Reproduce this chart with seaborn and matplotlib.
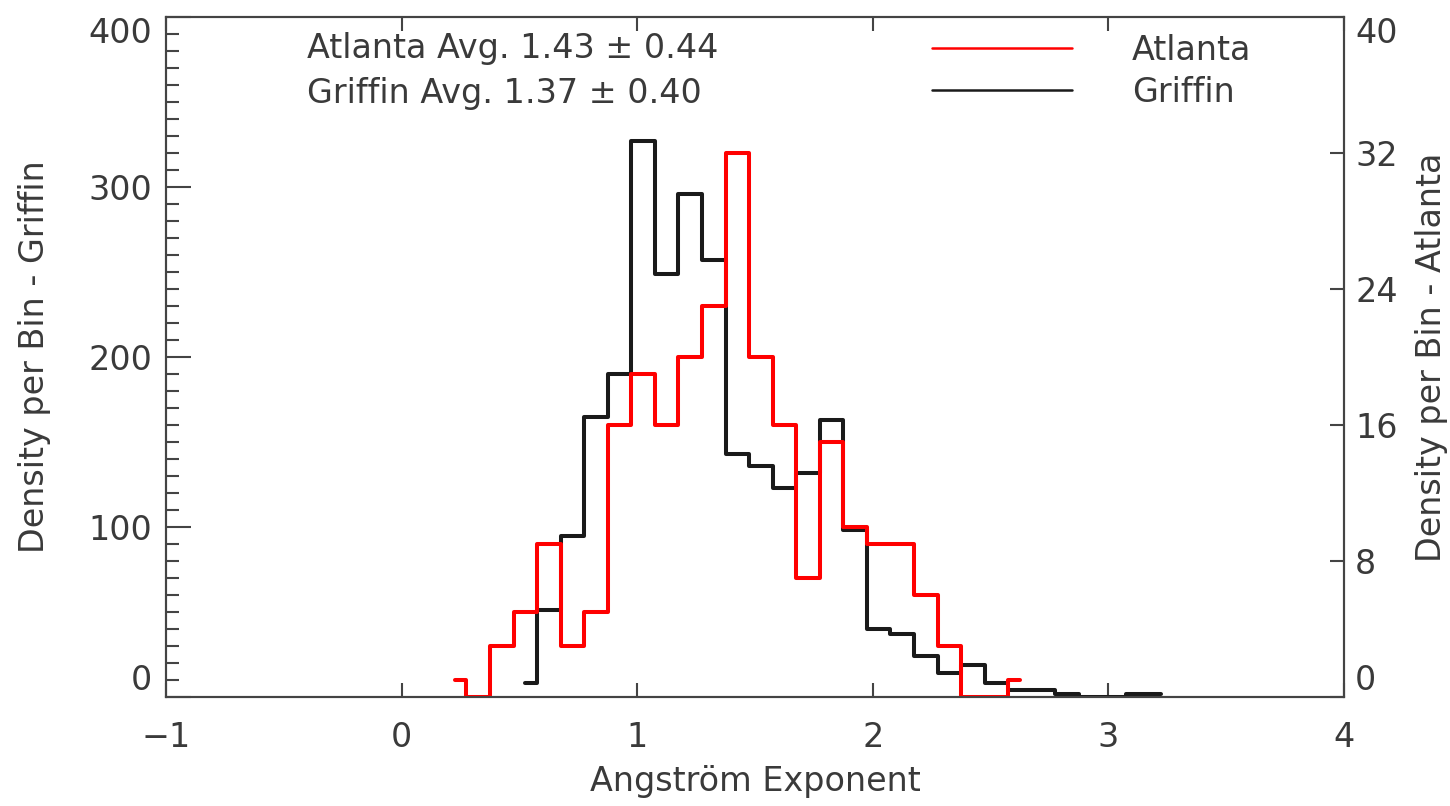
import matplotlib
matplotlib.use("Agg")
import matplotlib.pyplot as plt
from matplotlib.lines import Line2D
from matplotlib.ticker import MultipleLocator
import seaborn as sns

# ---- data ----
atlanta_x = [0.225, 0.325, 0.425, 0.525, 0.625, 0.725, 0.825, 0.925, 1.025, 1.125,
             1.225, 1.325, 1.425, 1.525, 1.625, 1.725, 1.825, 1.925, 2.025, 2.125,
             2.225, 2.325, 2.425, 2.525, 2.625]
atlanta_y = [1, 0, 3, 5, 9, 3, 5, 16, 19, 16,
             20, 23, 32, 20, 16, 7, 15, 10, 9, 9,
             6, 3, 0, 0, 1]

griffin_x = [0.525, 0.625, 0.725, 0.825, 0.925, 1.025, 1.125, 1.225, 1.325, 1.425,
             1.525, 1.625, 1.725, 1.825, 1.925, 2.025, 2.125, 2.225, 2.325, 2.425,
             2.525, 2.625, 2.725, 2.825, 2.925, 3.025, 3.125, 3.225]
griffin_y = [8, 51, 95, 165, 190, 327, 249, 296, 257, 143,
             136, 123, 132, 163, 98, 40, 37, 24, 14, 19,
             8, 4, 4, 2, 0, 0, 2, 2]

stats_lines = ["Atlanta Avg. 1.43 \u00b1 0.44", "Griffin Avg. 1.37 \u00b1 0.40"]
legend_labels = ["Atlanta", "Griffin"]
x_ticks = [-1, 0, 1, 2, 3, 4]
left_ticks = [0, 100, 200, 300, 400]
right_ticks = [0, 8, 16, 24, 32, 40]

# ---- style ----
sns.set_style("ticks")
plt.rcParams["font.family"] = ["DejaVu Sans"]
TXT = "#3a3a3a"
AX = "#444444"
FS = 24

fig = plt.figure(figsize=(14.5, 8.06), dpi=100)
ax = fig.add_axes([166 / 1450, 1 - 697 / 806, (1344 - 166) / 1450, (697 - 17) / 806])
ax2 = ax.twinx()

sns.lineplot(x=griffin_x, y=griffin_y, ax=ax, color="#1a1a1a", lw=2.9,
             drawstyle="steps-mid", estimator=None, legend=False)
sns.lineplot(x=atlanta_x, y=atlanta_y, ax=ax2, color="#ff0000", lw=2.9,
             drawstyle="steps-mid", estimator=None, legend=False)

ax.set_xlim(-1, 4)
ax.set_ylim(0, 400)
ax2.set_ylim(0, 40)

ax.set_xticks(x_ticks)
ax.set_xticklabels([str(t) if t >= 0 else "\u22121" for t in x_ticks])
ax.set_yticks(left_ticks)
ax.set_yticklabels([str(t) for t in left_ticks])
ax.yaxis.set_minor_locator(MultipleLocator(10))
ax2.set_yticks(right_ticks)
ax2.set_yticklabels([str(t) for t in right_ticks])

for a in (ax, ax2):
    for s in a.spines.values():
        s.set_visible(True)
        s.set_color(AX)
        s.set_linewidth(1.5)

ax.tick_params(axis="x", which="major", direction="in", length=10, width=1.5,
               color=AX, top=True, labelsize=FS, labelcolor=TXT, pad=17)
ax.tick_params(axis="y", which="major", direction="in", length=18, width=1.5,
               color=AX, labelsize=FS, labelcolor=TXT, pad=10)
ax.tick_params(axis="y", which="minor", direction="in", length=9, width=1.5,
               color=AX)
ax2.tick_params(axis="y", which="major", direction="in", length=10, width=1.5,
                color=AX, labelsize=FS, labelcolor=TXT, pad=8)

# keep end labels inside range like the reference
for a in (ax, ax2):
    labs = a.get_yticklabels()
    labs[0].set_va("bottom")
    labs[-1].set_va("top")

ax.set_xlabel("Angstr\u00f6m Exponent", fontsize=FS, color=TXT, labelpad=8)
ax.set_ylabel("Density per Bin - Griffin", fontsize=FS, color=TXT)
ax2.set_ylabel("Density per Bin - Atlanta", fontsize=FS, color=TXT)
ax.yaxis.set_label_coords(-0.098, 0.5)
ax2.yaxis.set_label_coords(1.06, 0.5)

ax.text(0.1197, 0.953, stats_lines[0], transform=ax.transAxes, fontsize=FS,
        color=TXT, va="center", ha="left")
ax.text(0.1197, 0.887, stats_lines[1], transform=ax.transAxes, fontsize=FS,
        color=TXT, va="center", ha="left")

handles = [Line2D([], [], color="#ff0000", lw=1.8),
           Line2D([], [], color="#1a1a1a", lw=1.8)]
ax2.legend(handles, legend_labels, loc="upper left", bbox_to_anchor=(0.65, 0.975),
           frameon=False, fontsize=FS, labelcolor=TXT, handlelength=4.2,
           handletextpad=1.8, labelspacing=0.27, borderpad=0, borderaxespad=0)

fig.savefig("out.png", dpi=100, facecolor="white")
